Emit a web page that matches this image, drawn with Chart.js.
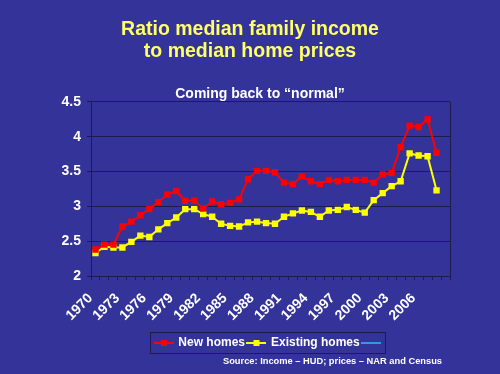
<!DOCTYPE html>
<html lang="en">
<head>
    <meta charset="UTF-8">
    <title>Ratio median family income to median home prices</title>
    <script src="https://cdn.jsdelivr.net/npm/chart.js@4/dist/chart.umd.min.js"></script>
    <style>
        html, body { margin: 0; padding: 0; background: #333399; }
        .chart-container { width: 500px; height: 374px; position: relative; }
    </style>
</head>
<body>
    <div class="chart-container">
        <canvas id="ratioChart"></canvas>
    </div>

    <script>
        const titleLines = ['Ratio median family income', 'to median home prices'];
        const subtitleText = 'Coming back to \u201cnormal\u201d';
        const sourceText = 'Source: Income \u2013 HUD; prices \u2013 NAR and Census';

        const years = ['1970', '1971', '1972', '1973', '1974', '1975', '1976', '1977', '1978', '1979',
                       '1980', '1981', '1982', '1983', '1984', '1985', '1986', '1987', '1988', '1989',
                       '1990', '1991', '1992', '1993', '1994', '1995', '1996', '1997', '1998', '1999',
                       '2000', '2001', '2002', '2003', '2004', '2005', '2006', '2007', '2008', ''];

        const newHomes = [2.38, 2.45, 2.45, 2.71, 2.78, 2.87, 2.96, 3.06, 3.17, 3.22,
                          3.08, 3.08, 2.97, 3.07, 3.03, 3.05, 3.10, 3.39, 3.51, 3.51,
                          3.49, 3.34, 3.32, 3.43, 3.36, 3.32, 3.38, 3.36, 3.38, 3.38,
                          3.38, 3.34, 3.46, 3.48, 3.85, 4.16, 4.14, 4.25, 3.77];

        const existingHomes = [2.33, 2.42, 2.41, 2.41, 2.49, 2.58, 2.56, 2.67, 2.76, 2.84,
                               2.96, 2.96, 2.89, 2.85, 2.75, 2.72, 2.71, 2.77, 2.78, 2.76,
                               2.75, 2.85, 2.90, 2.94, 2.92, 2.85, 2.94, 2.95, 2.99, 2.95,
                               2.91, 3.09, 3.19, 3.29, 3.36, 3.76, 3.73, 3.72, 3.23];

        const seriesNames = ['New homes', 'Existing homes', ''];
        const seriesColors = ['#ff0000', '#ffff00', '#3399dd'];
        const yTicks = [2, 2.5, 3, 3.5, 4, 4.5];

        const gridColor = '#1c1c50';
        const fontFamily = '"Liberation Sans", Arial, sans-serif';

        // little line + square icon for the legend, like the office chart
        function makeLegendIcon(color, withMarker) {
            const c = document.createElement('canvas');
            c.width = 20; c.height = 8;
            const g = c.getContext('2d');
            g.fillStyle = color;
            g.fillRect(0, 3, 20, 2);
            if (withMarker) g.fillRect(7, 1, 6, 6);
            return c;
        }
        const legendIcons = seriesColors.map((col, i) => makeLegendIcon(col, i < 2));

        const extras = {
            id: 'extras',
            beforeDatasetsDraw(chart) {
                const a = chart.chartArea, ctx = chart.ctx;
                ctx.save();
                ctx.strokeStyle = gridColor;
                ctx.lineWidth = 1;
                ctx.beginPath();
                ctx.moveTo(Math.round(a.right) + 0.5, a.top);
                ctx.lineTo(Math.round(a.right) + 0.5, a.bottom + 4);
                ctx.stroke();
                ctx.restore();
            },
            afterDraw(chart) {
                const ctx = chart.ctx;
                const boxes = chart.legend.legendHitBoxes;
                ctx.save();
                if (boxes && boxes.length) {
                    const first = boxes[0], last = boxes[boxes.length - 1];
                    const cy = first.top + first.height / 2;
                    ctx.strokeStyle = gridColor;
                    ctx.lineWidth = 1;
                    ctx.strokeRect(Math.round(first.left) - 4.5, Math.round(cy) - 10.5,
                                   Math.round(last.left + last.width - first.left) + 5, 21);
                }
                ctx.fillStyle = '#ffffff';
                ctx.textBaseline = 'middle';
                ctx.textAlign = 'center';
                ctx.font = 'bold 14px ' + fontFamily;
                ctx.fillText(subtitleText, 260, 94);
                ctx.textAlign = 'right';
                ctx.font = 'bold 9.3px ' + fontFamily;
                ctx.fillText(sourceText, 442, 361);
                ctx.restore();
            }
        };

        const ctx = document.getElementById('ratioChart').getContext('2d');
        new Chart(ctx, {
            type: 'line',
            data: {
                labels: years,
                datasets: [{
                    label: seriesNames[0],
                    data: newHomes,
                    borderColor: seriesColors[0],
                    backgroundColor: seriesColors[0],
                    borderWidth: 2,
                    pointStyle: 'rect',
                    pointRadius: 4.5,
                    pointBorderWidth: 0,
                    tension: 0,
                    fill: false
                }, {
                    label: seriesNames[1],
                    data: existingHomes,
                    borderColor: seriesColors[1],
                    backgroundColor: seriesColors[1],
                    borderWidth: 2,
                    pointStyle: 'rect',
                    pointRadius: 4.5,
                    pointBorderWidth: 0,
                    tension: 0,
                    fill: false
                }, {
                    label: seriesNames[2],
                    data: [],
                    borderColor: seriesColors[2],
                    backgroundColor: seriesColors[2],
                    borderWidth: 2,
                    pointRadius: 0
                }]
            },
            options: {
                responsive: true,
                maintainAspectRatio: false,
                animation: false,
                layout: { padding: { left: 0, right: 0, top: 0, bottom: 15 } },
                scales: {
                    x: {
                        offset: true,
                        afterFit: (scale) => { scale.height = 58; },
                        grid: {
                            offset: true,
                            drawOnChartArea: false,
                            color: gridColor,
                            tickLength: 4
                        },
                        border: { color: gridColor },
                        ticks: {
                            autoSkip: false,
                            maxRotation: 45,
                            minRotation: 45,
                            padding: 10,
                            labelOffset: -5,
                            color: '#ffffff',
                            font: { family: fontFamily, size: 14, weight: 'bold' },
                            callback: function(value, index) {
                                return index % 3 === 0 ? this.getLabelForValue(value) : '';
                            }
                        }
                    },
                    y: {
                        min: yTicks[0],
                        max: yTicks[yTicks.length - 1],
                        afterFit: (scale) => { scale.width = 91; },
                        afterBuildTicks: (scale) => { scale.ticks = yTicks.map(v => ({ value: v })); },
                        grid: { color: gridColor, tickLength: 4 },
                        border: { color: gridColor },
                        ticks: {
                            padding: 6,
                            color: '#ffffff',
                            font: { family: fontFamily, size: 14, weight: 'bold' },
                            callback: (value) => String(value)
                        }
                    },
                    // empty right side, keeps the plot off the right edge
                    yRight: {
                        position: 'right',
                        afterFit: (scale) => { scale.width = 50; },
                        grid: { display: false },
                        border: { display: false },
                        ticks: { display: false }
                    }
                },
                plugins: {
                    title: {
                        display: true,
                        text: titleLines,
                        color: '#ffff66',
                        font: { family: fontFamily, size: 19.5, weight: 'bold', lineHeight: 1.1 },
                        padding: { top: 19, bottom: 40 }
                    },
                    legend: {
                        position: 'bottom',
                        fullSize: false,
                        labels: {
                            color: '#ffffff',
                            font: { family: fontFamily, size: 12, weight: 'bold' },
                            usePointStyle: true,
                            pointStyleWidth: 17,
                            boxHeight: 8,
                            padding: 3,
                            generateLabels: function(chart) {
                                const items = Chart.defaults.plugins.legend.labels.generateLabels(chart);
                                items.forEach((item, i) => { item.pointStyle = legendIcons[i]; });
                                return items;
                            }
                        }
                    },
                    tooltip: { enabled: false }
                }
            },
            plugins: [extras]
        });
    </script>
</body>
</html>
